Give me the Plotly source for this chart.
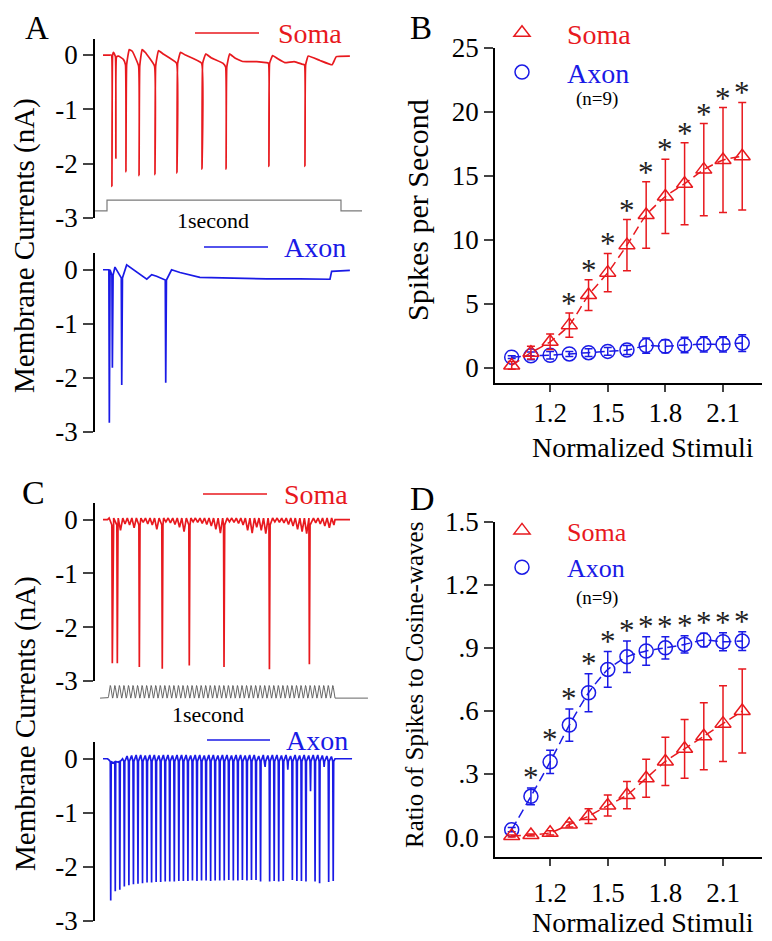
import math
import plotly.graph_objects as go

# The page body adds an 8 px margin: the figure is drawn 8 px smaller than the window and every
# position below is given in window pixels (the reference picture's coordinates).
PAGE_OFF = 8
W, H = 772 - PAGE_OFF, 941 - PAGE_OFF
RED = "#e8191e"
BLUE = "#1a1ae6"
FONT = "Liberation Serif, Times New Roman, serif"

# ====================== summary data (panels B and D, n=9) ======================
stimuli = [1.0, 1.1, 1.2, 1.3, 1.4, 1.5, 1.6, 1.7, 1.8, 1.9, 2.0, 2.1, 2.2]
stim_tickvals = [1.2, 1.5, 1.8, 2.1]
stim_ticktext = ["1.2", "1.5", "1.8", "2.1"]

b_soma_rate = [0.2, 1.2, 2.05, 3.35, 5.7, 7.45, 9.6, 11.95, 13.4, 14.4, 15.5, 16.25, 16.55]
b_soma_sem = [0.3, 0.5, 0.6, 0.95, 1.2, 1.5, 2.0, 2.6, 2.9, 3.2, 3.6, 4.1, 4.2]
b_axon_rate = [0.85, 0.95, 1.0, 1.1, 1.2, 1.3, 1.4, 1.75, 1.7, 1.8, 1.85, 1.85, 1.95]
b_axon_sem = [0.1, 0.3, 0.3, 0.2, 0.3, 0.3, 0.35, 0.6, 0.5, 0.6, 0.6, 0.6, 0.65]
b_star = [False, False, False, True, True, True, True, True, True, True, True, True, True]
b_tickvals = [0, 5, 10, 15, 20, 25]

d_soma_ratio = [0.005, 0.01, 0.02, 0.06, 0.10, 0.15, 0.20, 0.28, 0.36, 0.42, 0.48, 0.54, 0.60]
d_soma_sem = [0.005, 0.005, 0.01, 0.012, 0.035, 0.05, 0.065, 0.09, 0.115, 0.14, 0.16, 0.18, 0.20]
d_axon_ratio = [0.035, 0.194, 0.358, 0.533, 0.687, 0.798, 0.858, 0.886, 0.901, 0.917, 0.938, 0.930, 0.933]
d_axon_sem = [0.01, 0.04, 0.055, 0.077, 0.09, 0.085, 0.075, 0.068, 0.053, 0.041, 0.032, 0.043, 0.045]
d_star = [False, True, True, True, True, True, True, True, True, True, True, True, True]
d_tickvals = [0, 0.3, 0.6, 0.9, 1.2, 1.5]
d_ticktext = ["0.0", ".3", ".6", ".9", "1.2", "1.5"]

# ====================== example recordings (panels A and C) ======================
current_tickvals = [0, -1, -2, -3]
current_ticktext = ["0", "-1", "-2", "-3"]

# A: 1-second step stimulus (on = 1)
a_stim_ms = [-51, 0, 0, 1000, 1000, 1090]
a_stim_on = [0, 0, 1, 1, 0, 0]

# A soma
a_soma_spike_ms = [21, 38, 81, 137, 205, 299, 406, 509, 692, 846]
a_soma_spike_nA = [-2.42, -1.90, -2.15, -2.22, -2.20, -2.17, -2.10, -2.10, -2.05, -2.05]
a_soma_prespike_nA = [0.0, -0.03, -0.18, -0.20, -0.20, -0.15, -0.15, -0.22, -0.15, -0.18]
a_soma_base_ms = [-17, 12, 28, 50, 70, 95, 108, 150, 163, 220, 240, 314, 335, 422, 445, 495, 524,
                  545, 580, 640, 680, 708, 730, 760, 800, 835, 860, 910, 962, 980, 1038]
a_soma_base_nA = [0.0, 0.0, 0.05, -0.02, -0.08, 0.10, 0.07, 0.10, 0.05, 0.08, 0.02, 0.05, 0.0,
                  0.02, -0.05, -0.15, 0.02, -0.05, -0.12, -0.12, -0.14, -0.01, -0.07, -0.14,
                  -0.12, -0.17, -0.02, -0.10, -0.18, -0.03, -0.02]

# A axon
a_axon_spike_ms = [10, 23, 63, 251]
a_axon_spike_nA = [-2.83, -1.81, -2.13, -2.09]
a_axon_prespike_nA = [0.0, -0.10, -0.15, -0.19]
a_axon_base_ms = [-17, 4, 34, 84, 170, 191, 212, 276, 312, 397, 540, 682, 825, 953, 960, 1038]
a_axon_base_nA = [0.0, 0.0, 0.05, 0.09, -0.175, -0.09, -0.12, 0.0, -0.05, -0.14, -0.16,
                  -0.17, -0.17, -0.175, -0.03, -0.01]

# C: 1-second cosine-wave stimulus
c_stim_cycles = 50
c_stim_ms = [-35, 1145]

# C soma: spikes and per-cycle ripple troughs (None = cycle with a spike)
c_soma_spike_ms = [19, 41, 138, 239, 358, 511, 711, 887]
c_soma_spike_nA = [-2.67, -2.67, -2.74, -2.77, -2.71, -2.74, -2.78, -2.69]
c_soma_ripple_nA = [None, None, -0.20, -0.08, -0.10, -0.15, None, -0.05, -0.08, -0.10,
                    -0.18, None, -0.04, -0.06, -0.09, -0.14, -0.22, None, -0.04, -0.05,
                    -0.07, -0.09, -0.12, -0.18, -0.25, None, -0.04, -0.05, -0.07, -0.10,
                    -0.20, -0.25, -0.14, -0.20, -0.26, None, -0.04, -0.05, -0.06, -0.09,
                    -0.12, -0.18, -0.22, -0.26, None, -0.06, -0.08, -0.12, -0.15, -0.10]
c_soma_crest_nA = 0.03
c_soma_ends_ms = [-22, 1066]

# C axon: one value per cosine cycle (spike peak or small trough)
c_axon_spike_nA = [-2.62, -2.45, -2.42, -2.36, -2.34, -2.32, -2.31, -2.30, -2.29, -2.29,
                   -2.28, -2.28, -2.27, -2.27, -2.27, -2.26, -2.26, -2.26, -2.25, -2.26,
                   -2.25, -2.25, -2.26, -2.25, -2.25, -2.25, -2.24, -2.25, -2.25, -2.24,
                   -2.25, -2.24, -2.24, -2.27, -0.15, -2.27, -2.26, -2.27, -2.26, -0.20,
                   -2.24, -2.26, -2.26, -2.27, -0.60, -2.27, -2.30, -0.15, -2.28, -2.26]
c_axon_crest_nA = [-0.02, -0.08, -0.06, 0.0, 0.05, 0.06, 0.07, 0.07, 0.06, 0.07,
                   0.07, 0.06, 0.07, 0.07, 0.06, 0.07, 0.07, 0.07, 0.06, 0.07,
                   0.07, 0.06, 0.07, 0.07, 0.06, 0.07, 0.07, 0.06, 0.07, 0.07,
                   0.06, 0.07, 0.07, 0.05, 0.07, 0.06, 0.07, 0.07, 0.06, 0.07,
                   0.05, 0.07, 0.06, 0.07, 0.06, 0.07, 0.07, 0.06, 0.05, 0.04]
c_axon_prespike_nA = -0.05
c_axon_ends_ms = [-22, 1075]


# ====================== helpers ======================
def px(x):
    return (x - PAGE_OFF) / W


def py(y):
    return 1 - (y - PAGE_OFF) / H


def build_recording(base_ms, base_nA, spike_ms, spike_nA, pre_nA):
    pts = list(zip(base_ms, base_nA))
    for t, v, p in zip(spike_ms, spike_nA, pre_nA):
        pts += [(t - 2, p), (t, v), (t + 3, p)]
    pts.sort(key=lambda q: q[0])
    return [q[0] for q in pts], [q[1] for q in pts]


def build_c_soma():
    period = 1000 / c_stim_cycles
    pts = [(c_soma_ends_ms[0], 0.0), (-2, 0.0)]
    for k, dip in enumerate(c_soma_ripple_nA):
        pts.append((k * period + 5, c_soma_crest_nA))
        if dip is not None:
            pts.append((k * period + 15, dip))
    for t, v in zip(c_soma_spike_ms, c_soma_spike_nA):
        pts += [(t - 2, -0.1), (t, v), (t + 3, -0.1)]
    pts += [(1000, 0.0), (c_soma_ends_ms[1], 0.0)]
    pts.sort(key=lambda q: q[0])
    return [q[0] for q in pts], [q[1] for q in pts]


def build_c_axon():
    period = 1000 / c_stim_cycles
    pts = [(c_axon_ends_ms[0], 0.0), (-2, 0.0)]
    for k, (v, crest) in enumerate(zip(c_axon_spike_nA, c_axon_crest_nA)):
        t0 = k * period
        pts += [(t0 + 4, crest), (t0 + 10, c_axon_prespike_nA), (t0 + 12, v),
                (t0 + 14, c_axon_prespike_nA)]
    pts += [(1000, 0.0), (c_axon_ends_ms[1], 0.0)]
    pts.sort(key=lambda q: q[0])
    return [q[0] for q in pts], [q[1] for q in pts]


def build_c_stim():
    period = 1000 / c_stim_cycles
    xs = [c_stim_ms[0], 0.0]
    ys = [0.0, 0.0]
    n = c_stim_cycles * 16
    for i in range(1, n + 1):
        t = i * 1000 / n
        xs.append(t)
        ys.append((1 - math.cos(2 * math.pi * t / period)) / 2)
    xs.append(c_stim_ms[1])
    ys.append(0.0)
    return xs, ys


fig = go.Figure()
LW = 1.7

# ---------- panel A ----------
x, y = build_recording(a_soma_base_ms, a_soma_base_nA, a_soma_spike_ms, a_soma_spike_nA, a_soma_prespike_nA)
fig.add_trace(go.Scatter(x=x, y=y, mode="lines", line=dict(color=RED, width=LW, shape="spline", smoothing=0.3),
                         xaxis="x", yaxis="y", showlegend=False, hoverinfo="skip"))
fig.add_trace(go.Scatter(x=a_stim_ms, y=a_stim_on, mode="lines", line=dict(color="#7a7a7a", width=1.2),
                         xaxis="x", yaxis="y7", showlegend=False, hoverinfo="skip"))
x, y = build_recording(a_axon_base_ms, a_axon_base_nA, a_axon_spike_ms, a_axon_spike_nA, a_axon_prespike_nA)
fig.add_trace(go.Scatter(x=x, y=y, mode="lines", line=dict(color=BLUE, width=LW),
                         xaxis="x2", yaxis="y2", showlegend=False, hoverinfo="skip"))

# ---------- panel C ----------
x, y = build_c_soma()
fig.add_trace(go.Scatter(x=x, y=y, mode="lines", line=dict(color=RED, width=LW),
                         xaxis="x3", yaxis="y3", showlegend=False, hoverinfo="skip"))
x, y = build_c_stim()
fig.add_trace(go.Scatter(x=x, y=y, mode="lines", line=dict(color="#555555", width=0.9),
                         xaxis="x3", yaxis="y8", showlegend=False, hoverinfo="skip"))
x, y = build_c_axon()
fig.add_trace(go.Scatter(x=x, y=y, mode="lines", line=dict(color=BLUE, width=LW),
                         xaxis="x4", yaxis="y4", showlegend=False, hoverinfo="skip"))


# ---------- panels B and D ----------
def summary(xa, ya, vals, sems, color, symbol, name, legend):
    fig.add_trace(go.Scatter(x=stimuli, y=vals, mode="lines",
                             line=dict(color=color, width=1.5, dash="9px,5px", shape="spline", smoothing=0.6),
                             xaxis=xa, yaxis=ya, showlegend=False, hoverinfo="skip"))
    fig.add_trace(go.Scatter(x=stimuli, y=vals, mode="markers", name=name, legend=legend,
                             marker=dict(symbol=symbol, size=14, color=color, line=dict(color=color, width=1.5)),
                             error_y=dict(type="data", array=sems, color=color, thickness=1.5, width=4),
                             xaxis=xa, yaxis=ya, hoverinfo="skip"))


summary("x5", "y5", b_axon_rate, b_axon_sem, BLUE, "circle-open",
        f"<span style='color:{BLUE}'>Axon</span>", "legend")
summary("x5", "y5", b_soma_rate, b_soma_sem, RED, "triangle-up-open",
        f"<span style='color:{RED}'>Soma</span>", "legend")
summary("x6", "y6", d_axon_ratio, d_axon_sem, BLUE, "circle-open",
        f"<span style='color:{BLUE}'>Axon</span>", "legend2")
summary("x6", "y6", d_soma_ratio, d_soma_sem, RED, "triangle-up-open",
        f"<span style='color:{RED}'>Soma</span>", "legend2")

annotations = []
for xv, yv, e, s in zip(stimuli, b_soma_rate, b_soma_sem, b_star):
    if s:
        annotations.append(dict(x=xv, y=yv + e, xref="x5", yref="y5", text="*", showarrow=False,
                                yanchor="bottom", yshift=-10, font=dict(size=31, color="#222", family=FONT)))
for xv, yv, e, s in zip(stimuli, d_axon_ratio, d_axon_sem, d_star):
    if s:
        annotations.append(dict(x=xv, y=yv + e, xref="x6", yref="y6", text="*", showarrow=False,
                                yanchor="bottom", yshift=-9, font=dict(size=31, color="#222", family=FONT)))


def label(text, x, y, size, color="black", xanchor="center", angle=0):
    annotations.append(dict(x=px(x), y=py(y), xref="paper", yref="paper", text=text, showarrow=False,
                            xanchor=xanchor, yanchor="middle", textangle=angle,
                            font=dict(size=size, color=color, family=FONT)))


# panel letters
label("A", 37, 28, 33)
label("B", 421, 28, 33)
label("C", 33, 493, 34)
label("D", 422, 498, 34)

# axis titles
label("Membrane Currents (nA)", 25, 246, 29, angle=-90)
label("Membrane Currents (nA)", 25, 724, 29, angle=-90)
label("Spikes per Second", 417, 210, 30, angle=-90)
label("Ratio of Spikes to Cosine-waves", 414, 685, 25, angle=-90)
label("Normalized Stimuli", 643, 447, 28)
label("Normalized Stimuli", 643, 922, 28)

# trace labels
label("Soma", 276, 33, 28, RED, "left")
label("Axon", 282, 247, 28, BLUE, "left")
label("Soma", 282, 494, 28, RED, "left")
label("Axon", 284, 740, 28, BLUE, "left")
label("1second", 213, 221, 22)
label("1second", 208, 714, 22)
label("(n=9)", 597, 99, 19)
label("(n=9)", 597, 598, 19)

shapes = []
for x0, x1, yy, c in [(195, 259, 33, RED), (204, 268, 247, BLUE), (203, 267, 494, RED), (207, 270, 740, BLUE)]:
    shapes.append(dict(type="line", xref="paper", yref="paper", x0=px(x0), x1=px(x1), y0=py(yy), y1=py(yy),
                       line=dict(color=c, width=1.5)))

A_RANGE = [-51.3, 1124]
C_RANGE = [-57.3, 1154]
TICKFONT = dict(size=27, family=FONT, color="black")
trace_x = dict(domain=[px(95), px(370)], visible=False, showgrid=False, zeroline=False)
trace_y = dict(showline=True, linecolor="black", linewidth=1.6, ticks="outside", ticklen=10, tickwidth=1.6,
               tickvals=current_tickvals, ticktext=current_ticktext, showgrid=False, zeroline=False,
               tickfont=TICKFONT)
sum_x = dict(domain=[px(495), px(762)], range=[0.913, 2.303], showline=True, linecolor="black", linewidth=1.6,
             ticks="outside", ticklen=7, tickwidth=1.6, tickvals=stim_tickvals, ticktext=stim_ticktext,
             showgrid=False, zeroline=False, tickfont=TICKFONT)
sum_y = dict(showline=True, linecolor="black", linewidth=1.6, ticks="outside", ticklen=9, tickwidth=1.6,
             showgrid=False, zeroline=False, tickfont=TICKFONT)

legend_common = dict(xanchor="left", yanchor="top", itemwidth=80, bgcolor="rgba(0,0,0,0)",
                     traceorder="reversed", tracegroupgap=0)

fig.update_layout(
    width=W, height=H, autosize=False,
    margin=dict(l=0, r=0, t=0, b=0, autoexpand=False),
    paper_bgcolor="white", plot_bgcolor="rgba(0,0,0,0)",
    font=dict(family=FONT, color="black"),
    xaxis=dict(trace_x, range=A_RANGE, anchor="y"),
    yaxis=dict(trace_y, domain=[py(218), py(39)], range=[-3, 0.295], anchor="x"),
    xaxis2=dict(trace_x, range=A_RANGE, anchor="y2"),
    yaxis2=dict(trace_y, domain=[py(432), py(253)], range=[-3, 0.31], anchor="x2"),
    xaxis3=dict(trace_x, range=C_RANGE, anchor="y3"),
    yaxis3=dict(trace_y, domain=[py(681), py(503)], range=[-3, 0.31], anchor="x3"),
    xaxis4=dict(trace_x, range=C_RANGE, anchor="y4"),
    yaxis4=dict(trace_y, domain=[py(921), py(742)], range=[-3, 0.31], anchor="x4"),
    xaxis5=dict(sum_x, anchor="y5"),
    yaxis5=dict(sum_y, domain=[py(383), py(48)], range=[-1.17, 25], tickvals=b_tickvals, anchor="x5"),
    xaxis6=dict(sum_x, anchor="y6"),
    yaxis6=dict(sum_y, domain=[py(857), py(522)], range=[-0.095, 1.5], tickvals=d_tickvals,
                ticktext=d_ticktext, anchor="x6"),
    yaxis7=dict(domain=[py(213), py(198)], range=[-0.2, 1.2], visible=False, anchor="x"),
    yaxis8=dict(domain=[py(700), py(683)], range=[-0.15, 1.2], visible=False, anchor="x3"),
    legend=dict(legend_common, x=px(477), y=py(8), font=dict(size=28, family=FONT)),
    legend2=dict(legend_common, x=px(477), y=py(507), font=dict(size=26, family=FONT)),
    annotations=annotations,
    shapes=shapes,
    hovermode=False,
)

for key, val in (("xaxis5_ticklabelstandoff", -2), ("xaxis6_ticklabelstandoff", 4)):
    try:
        fig.update_layout(**{key: val})
    except Exception:
        pass

fig.write_html("out.html")
